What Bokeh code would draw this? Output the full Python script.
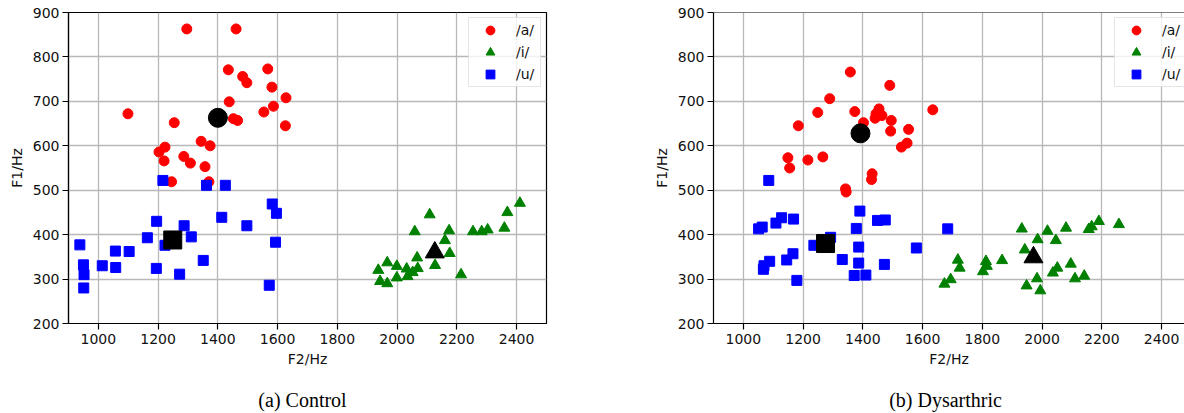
from bokeh.plotting import figure
from bokeh.models import Range1d, FixedTicker, Span
from bokeh.layouts import row, column
from bokeh.core.properties import value
from bokeh.embed import file_html
from bokeh.resources import INLINE

# ---------------- data ----------------
x_ticks = [1000, 1200, 1400, 1600, 1800, 2000, 2200, 2400]
y_ticks = [200, 300, 400, 500, 600, 700, 800, 900]
legend_labels = ["/a/", "/i/", "/u/"]
captions = ["(a) Control", "(b) Dysarthric"]

# Control group
ctrl_a_f2 = [1296, 1461, 1435, 1483, 1497, 1567, 1581, 1628, 1438, 1586, 1554, 1099, 1452,
             1466, 1626, 1254, 1344, 1374, 1223, 1203, 1220, 1286, 1308, 1357, 1245, 1370]
ctrl_a_f1 = [863, 863, 771, 756, 742, 773, 732, 708, 699, 689, 676, 672, 661,
             657, 645, 652, 610, 600, 597, 586, 566, 576, 561, 553, 519, 519]
ctrl_i_f2 = [2411, 2369, 2359, 2303, 2283, 2254, 2109, 2174, 2059, 2160, 2176, 2067,
             2127, 1967, 1937, 1999, 2032, 2069, 2052, 2035, 1999, 1943, 1967, 2214]
ctrl_i_f1 = [471, 450, 415, 411, 407, 407, 445, 409, 407, 387, 358, 348,
             331, 337, 320, 329, 323, 324, 315, 306, 303, 295, 290, 310]
ctrl_u_f2 = [1216, 1362, 1425, 1582, 1596, 1413, 1497, 1195, 1287, 1311, 1164, 1223, 938,
             1593, 1057, 1103, 950, 1013, 1058, 1194, 952, 1351, 1272, 1572, 951]
ctrl_u_f1 = [522, 511, 511, 469, 448, 439, 420, 430, 420, 395, 393, 376, 377,
             383, 363, 362, 332, 330, 326, 324, 310, 342, 311, 286, 280]
ctrl_mean_f2 = [1400, 2126, 1249]
ctrl_mean_f1 = [663, 360, 388]

# Dysarthric group
dys_a_f2 = [1358, 1490, 1289, 1634, 1249, 1373, 1454, 1444, 1464, 1441, 1495, 1402, 1184,
            1553, 1493, 1548, 1529, 1149, 1216, 1266, 1155, 1431, 1429, 1342, 1344]
dys_a_f1 = [766, 736, 706, 681, 675, 677, 683, 672, 668, 662, 657, 652, 645,
            637, 633, 606, 597, 573, 568, 575, 550, 537, 524, 503, 496]
dys_i_f2 = [2257, 2190, 2166, 2156, 2080, 2018, 1932, 2046, 1985, 1942, 1866, 1812, 1815,
            1802, 1718, 1724, 1694, 1673, 2051, 2036, 2096, 2110, 2141, 1983, 1948, 1994]
dys_i_f1 = [423, 430, 418, 412, 415, 408, 413, 387, 389, 366, 342, 340, 329,
            317, 343, 325, 299, 289, 325, 314, 334, 301, 307, 301, 285, 274]
dys_u_f2 = [1085, 1390, 1449, 1475, 1128, 1168, 1109, 1063, 1051, 1378, 1292, 1236, 1386,
            1579, 1166, 1145, 1088, 1331, 1069, 1067, 1386, 1472, 1371, 1410, 1179, 1684]
dys_u_f1 = [522, 453, 432, 433, 438, 435, 426, 417, 413, 414, 394, 376, 372,
            370, 357, 343, 340, 344, 330, 322, 336, 333, 308, 309, 297, 413]
dys_mean_f2 = [1392, 1971, 1275]
dys_mean_f1 = [628, 349, 380]

colors = ["#ff0000", "#008000", "#0000ff"]
markers = ["circle", "triangle", "square"]
sizes = [10, 11, 10]
mean_sizes = [19, 19, 18]

FONT = "DejaVu Sans"
PLOT_H = 380
CAP_H = 413 - PLOT_H


def make_plot(a, i, u, means, width, left, right, x_end, outline, legend_loc):
    p = figure(width=width, height=PLOT_H, output_backend="svg", toolbar_location=None,
               x_range=Range1d(900, x_end), y_range=Range1d(200, 900),
               min_border_left=left, min_border_right=right,
               min_border_top=12, min_border_bottom=PLOT_H - 323,
               x_axis_label="F2/Hz", y_axis_label="F1/Hz")
    p.background_fill_color = "white"
    p.border_fill_color = "white"
    if outline:
        p.outline_line_color = "black"
        p.outline_line_width = 1.2
        p.outline_line_alpha = 1.0
    else:
        p.outline_line_color = None
        p.add_layout(Span(location=900, dimension="width", line_color="black", line_width=1.2))

    p.xaxis.ticker = FixedTicker(ticks=x_ticks)
    p.yaxis.ticker = FixedTicker(ticks=y_ticks)
    for ax in (p.xaxis, p.yaxis):
        ax.axis_line_color = "black"
        ax.axis_line_width = 1.2
        ax.major_tick_line_color = "black"
        ax.major_tick_line_width = 1.2
        ax.major_tick_out = 6
        ax.major_tick_in = 0
        ax.minor_tick_line_color = None
        ax.major_label_text_font = FONT
        ax.major_label_text_font_size = "14px"
        ax.major_label_text_color = "#111111"
        ax.axis_label_text_font = FONT
        ax.axis_label_text_font_size = "14px"
        ax.axis_label_text_font_style = "normal"
        ax.axis_label_text_color = "#111111"
    p.xaxis.major_label_standoff = 4
    p.yaxis.major_label_standoff = 3
    p.xaxis.axis_label_standoff = 4
    p.yaxis.axis_label_standoff = 5

    for g in (p.xgrid, p.ygrid):
        g.grid_line_color = "#b8b8b8"
        g.grid_line_width = 1.3

    for (xs, ys), c, m, s, lab in zip((a, i, u), colors, markers, sizes, legend_labels):
        p.scatter(xs, ys, marker=m, size=s, fill_color=c, line_color=c, legend_label=lab)
    for k in range(3):
        p.scatter([means[0][k]], [means[1][k]], marker=markers[k], size=mean_sizes[k],
                  fill_color="black", line_color="black")

    lg = p.legend[0]
    lg.location = legend_loc
    lg.margin = 0
    lg.padding = 1
    lg.spacing = 0
    lg.glyph_width = 40
    lg.glyph_height = 22
    lg.label_height = 22
    lg.label_width = 23
    lg.label_standoff = 6
    lg.label_text_font = FONT
    lg.label_text_font_size = "14px"
    lg.label_text_color = "#111111"
    lg.border_line_color = "#cccccc"
    lg.border_line_width = 1
    lg.background_fill_color = "white"
    lg.background_fill_alpha = 0.8
    return p


def make_caption(text, width, cx):
    c = figure(width=width, height=CAP_H, output_backend="svg", toolbar_location=None,
               x_range=Range1d(0, width), y_range=Range1d(0, CAP_H),
               min_border=0, min_border_left=0, min_border_right=0,
               min_border_top=0, min_border_bottom=0)
    c.axis.visible = False
    c.grid.visible = False
    c.outline_line_color = None
    c.background_fill_color = "white"
    c.border_fill_color = "white"
    c.text(x=[cx], y=[CAP_H - 19], text=[text], text_align="center", text_baseline="middle",
           text_font=value("Liberation Serif"), text_font_size="20px", text_color="black")
    return c


p1 = make_plot((ctrl_a_f2, ctrl_a_f1), (ctrl_i_f2, ctrl_i_f1), (ctrl_u_f2, ctrl_u_f1),
               (ctrl_mean_f2, ctrl_mean_f1), 645, 68, 99, 2500, True, (400, 236))
p2 = make_plot((dys_a_f2, dys_a_f1), (dys_i_f2, dys_i_f1), (dys_u_f2, dys_u_f1),
               (dys_mean_f2, dys_mean_f1), 539, 68, 0, 2476.6, False, (401, 236))
c1 = make_caption(captions[0], 645, 302)
c2 = make_caption(captions[1], 539, 300)

layout = column(row(p1, p2), row(c1, c2))
open("out.html", "w").write(file_html(layout, INLINE))
